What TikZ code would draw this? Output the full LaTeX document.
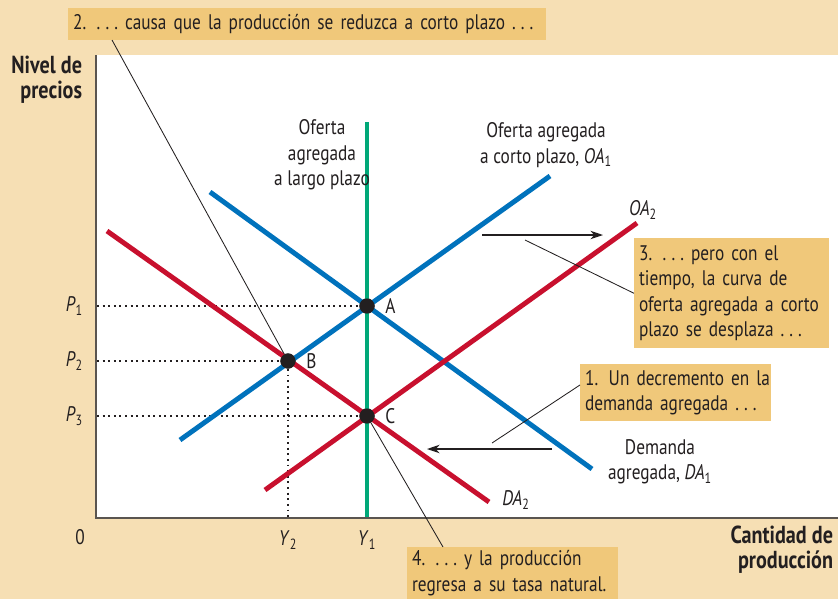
\documentclass[tikz,border=0pt]{standalone}
\usepackage{fontspec}
\setmainfont{PT Sans}[FakeStretch=0.82]
\usetikzlibrary{arrows.meta}
\definecolor{fondo}{RGB}{246,223,180}
\definecolor{caja}{RGB}{240,200,122}
\definecolor{azul}{RGB}{0,114,188}
\definecolor{rojo}{RGB}{200,16,46}
\definecolor{verde}{RGB}{0,168,120}
\definecolor{eje}{RGB}{90,85,80}
\definecolor{testo}{RGB}{35,31,32}
\newcommand{\var}[2]{\textit{#1}\textsubscript{#2}}
\newcommand{\tre}{.\hspace{0.24em}.\hspace{0.24em}.}
\tikzset{
  curva/.style={line width=3.5pt},
  punto/.style={circle,fill=testo,inner sep=0pt,minimum size=0.38cm},
  guida/.style={testo,line width=1.4pt,dash pattern=on 1.4pt off 2.6pt},
  nota/.style={fill=caja,anchor=north west,align=left,inner xsep=0.12cm,inner ysep=0pt},
  titolo/.style={align=right,font=\fontsize{17.5}{18}\selectfont\bfseries},
  leader/.style={testo,line width=0.6pt},
  freccia/.style={testo,line width=0.9pt,-{Stealth[length=9pt,width=6pt]}},
}
\begin{document}
\begin{tikzpicture}[x=0.025cm,y=-0.025cm,font=\fontsize{15}{18}\selectfont,text=testo]
    %sfondo e area del grafico
    \fill[fondo] (0,0) rectangle (838,599);
    \fill[white] (96,55) rectangle (838,518);
    \useasboundingbox (0,0) rectangle (838,599);
    %assi
    \draw[eje,line width=1.5pt] (96,55)--(96,518)--(838,518);
    \node[titolo,anchor=east] (ylab) at (87,80) {Nivel de\\precios};
    \node[titolo,anchor=east] (xlab) at (838,550) {Cantidad de\\producción};
    \node (zero) at (80,537) {0};
    %punti di equilibrio
    \node[punto] (A) at (367,306) {};
    \node[punto] (B) at (288,361) {};
    \node[punto] (C) at (367,416) {};
    \node[right=4pt] (Alab) at (A.east) {A};
    \node[right=4pt] (Blab) at (B.east) {B};
    \node[right=4pt] (Clab) at (C.east) {C};
    %linee tratteggiate
    \draw[guida] (97,306)--(A.west);
    \draw[guida] (97,361)--(B.west);
    \draw[guida] (97,416)--(C.west);
    \draw[guida] (B.south)--(288,517);
    \node[anchor=east] (P1) at (88,306) {\var{P}{1}};
    \node[anchor=east] (P2) at (88,361) {\var{P}{2}};
    \node[anchor=east] (P3) at (88,416) {\var{P}{3}};
    \node (Y2) at (288,540) {\var{Y}{2}};
    \node (Y1) at (367,540) {\var{Y}{1}};
    %offerta di lungo periodo
    \draw[curva,verde] (367,122)--(367,517);
    %offerta e domanda
    \draw[curva,azul] (180,440)--(550,176);
    \draw[curva,azul] (210,192)--(592,469);
    \draw[curva,rojo] (107,231)--(489,502);
    \draw[curva,rojo] (265,490)--(637,223);
    %ripunta i punti sopra le curve
    \fill[testo] (A) circle (0.19cm) (B) circle (0.19cm) (C) circle (0.19cm);
    %etichette delle curve
    \node[align=center] (OLP) at (322,155) {Oferta\\agregada\\a largo plazo};
    \node[align=center] (OA1) at (546,145) {Oferta agregada\\a corto plazo, \var{OA}{1}};
    \node (OA2) at (643,210) {\var{OA}{2}};
    \node[align=center] (DA1) at (660,462) {Demanda\\agregada, \var{DA}{1}};
    \node (DA2) at (516,500) {\var{DA}{2}};
    %frecce di spostamento
    \coordinate (s1) at (482,235);
    \coordinate (s2) at (603,235);
    \coordinate (d1) at (552,449);
    \coordinate (d2) at (427,449);
    \draw[freccia] (s1)--(s2);
    \draw[freccia] (d1)--(d2);
    %note
    \node[nota,minimum width=11.95cm,text width=11.71cm,minimum height=0.8cm] (n2) at (68,8) {2. \tre\ causa que la producción se reduzca a corto plazo \tre};
    \node[nota,minimum width=4.875cm,text width=4.635cm,minimum height=2.75cm] (n3) at (634,238) {3. \tre\ pero con el\\tiempo, la curva de\\oferta agregada a corto\\plazo se desplaza \tre};
    \node[nota,minimum width=4.775cm,text width=4.535cm,minimum height=1.425cm] (n1) at (580,364) {\mbox{1. Un decremento en la}\\demanda agregada \tre};
    \node[nota,minimum width=5.275cm,text width=5.035cm,minimum height=1.3cm] (n4) at (407,547) {4. \tre\ y la producción\\regresa a su tasa natural.};
    %linee di richiamo
    \coordinate (l2) at (112,40);
    \coordinate (l3) at (525,240);
    \coordinate (l1) at (492,443);
    \coordinate (l4) at (443,547);
    \draw[leader] (l2)--(B);
    \draw[leader] (l3)--(n3.west);
    \draw[leader] (l1)--(580,385);
    \draw[leader] (C)--(l4);
\end{tikzpicture}
\end{document}
